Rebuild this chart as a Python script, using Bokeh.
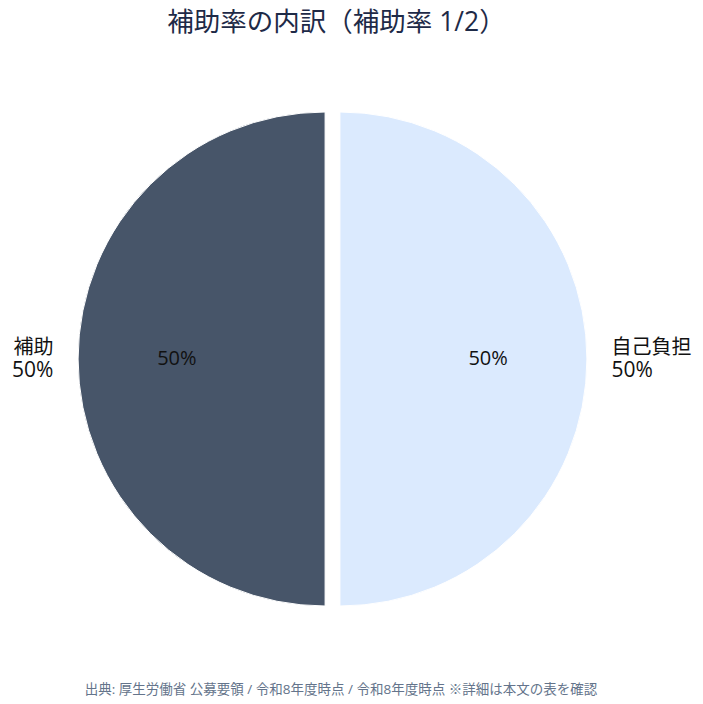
import numpy as np
from bokeh.plotting import figure
from bokeh.models import Range1d, ColumnDataSource
from bokeh.core.properties import value
from bokeh.embed import file_html
from bokeh.resources import INLINE

# ---- data ----
categories = ["補助", "自己負担"]
shares = [50, 50]
colors = ["#475569", "#dbeafe"]
title_text = "補助率の内訳（補助率 1/2）"
footer_text = "出典: 厚生労働省 公募要領 / 令和8年度時点 / 令和8年度時点 ※詳細は本文の表を確認"

FONT = "'Open Sans', 'Noto Sans CJK JP', sans-serif"
W, H = 703, 704

p = figure(width=W, height=H, output_backend="svg", toolbar_location=None,
           x_range=Range1d(0, W), y_range=Range1d(0, H),
           min_border=0)
p.axis.visible = False
p.grid.visible = False
p.outline_line_color = None
p.background_fill_color = "white"
p.border_fill_color = "white"

def py(y):
    return H - y

cx, cy = 332.0, py(358.5)
R = 247.0
explode = 0.03

vals = np.array(shares, dtype=float)
frac = vals / vals.sum()
start_deg = 90 + 360 * np.concatenate([[0], np.cumsum(frac)[:-1]])
end_deg = start_deg + 360 * frac
mid = np.deg2rad((start_deg + end_deg) / 2)
ox = cx + explode * R * np.cos(mid)
oy = cy + explode * R * np.sin(mid)

src = ColumnDataSource(dict(x=ox, y=oy, start=np.deg2rad(start_deg), end=np.deg2rad(end_deg),
                            color=colors))
p.wedge(x="x", y="y", radius=R, start_angle="start", end_angle="end",
        fill_color="color", line_color="white", line_width=1, source=src)

# inner percentage labels
pct = [f"{v/vals.sum()*100:.0f}%" for v in vals]
ix = ox + 0.6 * R * np.cos(mid)
iy = oy + 0.6 * R * np.sin(mid) + 1.5
p.text(x=ix, y=iy, text=pct, text_font=value(FONT), text_font_size="20px",
       text_align="center", text_baseline="middle", text_color="#111111")

# outer labels
lx = ox + 1.1 * R * np.cos(mid)
ly = oy + 1.1 * R * np.sin(mid)
for i, c in enumerate(categories):
    align = "left" if np.cos(mid[i]) >= 0 else "right"
    p.text(x=[lx[i]], y=[ly[i] + 12.5], text=[c], text_font=value(FONT), text_font_size="20px",
           text_align=align, text_baseline="middle", text_color="#111111")
    p.text(x=[lx[i]], y=[ly[i] - 10], text=[pct[i]], text_font=value(FONT), text_font_size="21px",
           text_align=align, text_baseline="middle", text_color="#111111")

# title and footer
p.text(x=[336], y=[py(20.5)], text=[title_text], text_font=value(FONT), text_font_size="26.5px",
       text_align="center", text_baseline="middle", text_color="#1e2a47")
p.text(x=[340.5], y=[py(688)], text=[footer_text], text_font=value(FONT), text_font_size="13.5px",
       text_align="center", text_baseline="middle", text_color="#64748b")

open("out.html", "w").write(file_html(p, INLINE))
